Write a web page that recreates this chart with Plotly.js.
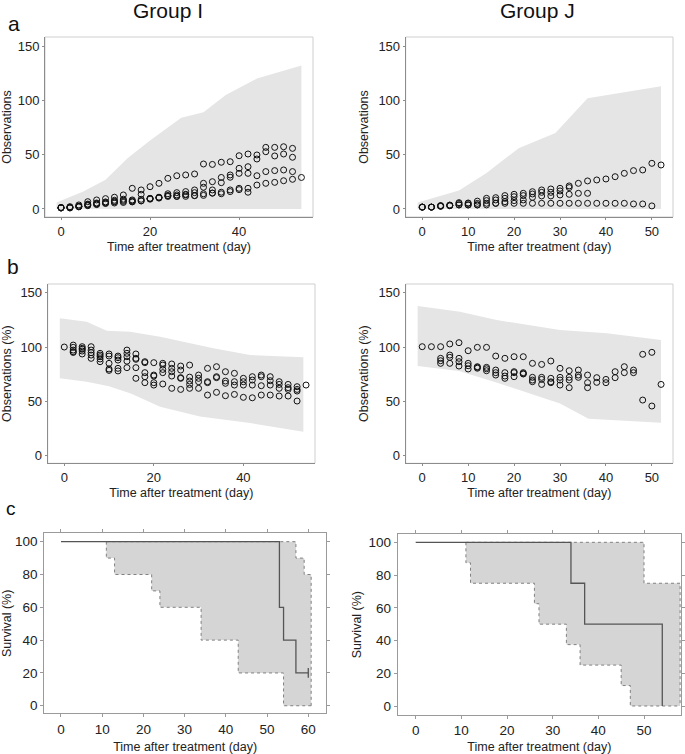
<!DOCTYPE html>
<html>
<head>
<meta charset="utf-8">
<script src="https://cdn.plot.ly/plotly-3.0.1.min.js"></script>
<style>
  html, body { margin: 0; padding: 0; background: #fff; }
  #chart { width: 685px; height: 754px; }
</style>
</head>
<body>
<div id="chart"></div>
<script>
// ---- días de observación ----
const days = [0,2,4,6,8,10,12,14,16,18,20,22,24,26,28,30,32,34,36,38,40,42,44,46,48,50,52,54];

// ---- panel a: Group I (observaciones por sujeto) ----
const obsI_A = [1.5,2.1,3.7,6.7,8.3,9.5,10.8,12.9,19,17.5,20.5,23.6,28.2,30.6,31.3,32.2,41.4,41,43,43.5,49,50.6,49.7,56.7,56.7,57.3,55.8];
const obsI_B = [1,1.5,2.5,4.5,5.5,6.5,8,9,8.3,13.5,9.8,10.8,14,15,16,17.5,23.6,25.1,29,31.3,37.4,38.9,46,52.7,48.8,50.6,47.6];
const obsI_C = [1,1.5,2.5,4,5,6,7,8,7.5,8.9,9.5,10.5,12.3,12.9,13.5,15,20,17.5,24.2,29.2,32.8,32.8,30.6,34.4,35.3,35.9,34.4];
const obsI_D = [1,1,2,3.5,4.5,5.5,6.5,7,6.7,7.4,9.5,10.5,12.3,11.6,11.6,12.3,14,14.6,15.4,17.5,19,19,22,23.6,24.5,26,27.3,29];
const obsI_E = [1,1,2,3,4,5,5.5,6,6.5,7.5,9,10,11.5,11.6,13,12.3,12.5,14.6,14,16,17.8,15.4];
const bandA_I_x  = [-1,5,10,15,20,27,32,37,44,54];
const bandA_I_hi = [6,16,27,47,63,84,89,105,120,132];
const bandA_I_lo = [0,0,0,0,0,0,0,0,0,0];

// ---- panel a: Group J ----
const obsJ_1 = [1.7,1.7,3,3.5,5.8,5.5,7.2,9.8,10.4,12.3,13.5,14.4,15.9,17.5,18.4,19,21.2,23.6,25.8,26.7,27.6,29.7,32.8,35.3,35.9,42,40.5];
const obsJ_2 = [1.7,1.7,3,3.5,5,5,5.1,7.7,8.3,9.8,11.3,12.3,13.8,15.3,15.3,16.6,19.7];
const obsJ_3 = [1.7,1.7,2.5,3,3.7,3.7,3.7,5.2,5.2,6.7,7.7,8.3,10.7,12,12,12.9,13.5,14.4,14.4];
const obsJ_4 = [1.7,1.7,2.5,3,3.7,3.7,3.7,3.7,5.2,5.2,5.2,5.2,5.2,5.2,5.2,5.2,5.2,5.2,5.2,5.2,5.2,5.2,5.2,4.6,4.6,2.8];
const bandA_J_x  = [-1,8,14,21,29,36,52];
const bandA_J_hi = [6,17,33,56,70,102,113];
const bandA_J_lo = [0,0,0,0,0,0,0];

// ---- panel b: Group I (% del valor inicial) ----
const pctI_1 = [100,101.8,100.3,100.3,94.2,93.6,91.7,97.2,93.6,86.5,85.6,85,84.4,82.5,83.4,74.2,80.4,81.9,77.3,75.8,71.2,72.7,74.2,72.7,68.1,65.6,63.5,65];
const pctI_2 = [99.7,98.8,97.2,92.6,91.7,90.2,94.2,89.6,85.6,74.2,83.4,80.4,78.8,72.3,71.2,68.1,72.7,68.7,68.1,68.1,69.6,72.7,69,65.6,62.6,61];
const pctI_3 = [97.2,97.9,94.8,91.1,85,88,91.1,88.7,76.4,73.3,79.4,77.3,71.8,68.7,68.1,67.2,71.8,66.6,65,65,65,64.4,65,62,61,59.5];
const pctI_4 = [95.7,96.3,92.6,89,79.8,80.4,87,81,72.7,67.2,76.4,73.3,71.2,65.6,62,55.8,58.3,55.2,56.4,53.7,53.3,55.8,55.8,54.9,54.9,50.3];
const pctI_5 = [95,93.6,89.6,86.5,78.5,78,81,71.2,67.2,65,66,62,61,62];
const bandB_I_hiX = [-1,5,9.5,14.7,21.4,33.3,41.5,53.4];
const bandB_I_hi  = [126.4,123.3,115,114,109.5,98.8,92.6,90.5];
const bandB_I_loX = [-1,5,10,15,21.4,30.3,41.5,53.4];
const bandB_I_lo  = [71.2,68,64,57,45,36,30,22];

// ---- panel b: Group J ----
const pctJ_1 = [100.3,100.3,100.3,102.8,104,96.6,99.7,99.7,91.7,89.6,91.1,91.1,85,84,87.1,80.4,78.2,78.8,74.2,71.8,70.2,77.3,81.9,78.8,93.3,95.1,65.6];
const pctJ_2 = [89.6,92.6,89.6,85,81.9,81.3,78.8,76.4,77.3,76.4,72.1,72.1,71.2,72.1,72.1,74.2,67.2,67.5,67.2,71.8,76.4,76.4,51.2,45.7];
const pctJ_3 = [87.4,90.5,86.5,82.8,81.3,80,76.4,73.3,76.4,75.2,69.6,70.2,67.2,69.6,69.6,72.1,62.6];
const pctJ_4 = [85,85,82.5,79.8,80.5,78.2,74.2,71.2,72.7,75.5,68.1,65.6,68,65,62.6];
const bandB_J_hiX = [-1,8.2,16.2,30,40.2,52];
const bandB_J_hi  = [137.7,132.5,124.8,115.6,112.6,106.4];
const bandB_J_loX = [-1,8,16.5,22.7,30,36.2,52];
const bandB_J_lo  = [82.5,78,67,58,48,34,30.4];

// ---- panel c: supervivencia (tiempos de caída y valor después) ----
const kmI_t = [0,53,54,57,60];
const kmI_v = [100,60,40,20,20];
const kmI_censorT = [60];
const kmI_censorV = [20];
const ciI_low_t = [11,11,13,22,24,34,43,54,60.7];
const ciI_low_v = [100,90,80,70,60,40,20,0,0];
const ciI_up_t  = [11,57,59,60.7];
const ciI_up_v  = [100,90,80,0];

const kmJ_t = [0,34,37,54];
const kmJ_v = [100,75,50,0];
const ciJ_low_t = [11,11,12,26,27,33,36,45,47,57.9];
const ciJ_low_v = [100,87.5,75,62.5,50,37.5,25,12.5,0,0];
const ciJ_up_t  = [11,50,57.9];
const ciJ_up_v  = [100,75,0];

const FONT = 'Arial, "Liberation Sans", sans-serif';
const BAND = '#e5e5e5';
const SHADE = '#d5d5d5';

// puntos de un sujeto
function dots(x, y, xa, ya) {
    return { x, y, xaxis: xa, yaxis: ya, type: "scatter", mode: "markers",
        marker: { symbol: "circle-open", size: 6, color: "#111", line: { width: 1 } },
        hoverinfo: "skip" };
}

// banda gris (inferior + superior con relleno)
function band(xLo, lo, xHi, hi, xa, ya) {
    return [
        { x: xLo, y: lo, xaxis: xa, yaxis: ya, type: "scatter", mode: "lines",
          line: { width: 0 }, hoverinfo: "skip" },
        { x: xHi, y: hi, xaxis: xa, yaxis: ya, type: "scatter", mode: "lines",
          line: { width: 0 }, fill: "tonexty", fillcolor: BAND, hoverinfo: "skip" }
    ];
}

function stepCI(tLo, vLo, tUp, vUp, xa, ya) {
    return [
        { x: tLo, y: vLo, xaxis: xa, yaxis: ya, type: "scatter", mode: "lines",
          line: { shape: "hv", color: "#808080", width: 1, dash: "dot" }, hoverinfo: "skip" },
        { x: tUp, y: vUp, xaxis: xa, yaxis: ya, type: "scatter", mode: "lines",
          line: { shape: "hv", color: "#808080", width: 1, dash: "dot" },
          fill: "tonexty", fillcolor: SHADE, hoverinfo: "skip" }
    ];
}

function kmLine(t, v, xa, ya) {
    return { x: t, y: v, xaxis: xa, yaxis: ya, type: "scatter", mode: "lines",
        line: { shape: "hv", color: "#555", width: 1.3 }, hoverinfo: "skip" };
}

const data = [
    ...band(bandA_I_x, bandA_I_lo, bandA_I_x, bandA_I_hi, "x", "y"),
    dots(days.slice(0, obsI_A.length), obsI_A, "x", "y"),
    dots(days.slice(0, obsI_B.length), obsI_B, "x", "y"),
    dots(days.slice(0, obsI_C.length), obsI_C, "x", "y"),
    dots(days.slice(0, obsI_D.length), obsI_D, "x", "y"),
    dots(days.slice(0, obsI_E.length), obsI_E, "x", "y"),

    ...band(bandA_J_x, bandA_J_lo, bandA_J_x, bandA_J_hi, "x2", "y2"),
    dots(days.slice(0, obsJ_1.length), obsJ_1, "x2", "y2"),
    dots(days.slice(0, obsJ_2.length), obsJ_2, "x2", "y2"),
    dots(days.slice(0, obsJ_3.length), obsJ_3, "x2", "y2"),
    dots(days.slice(0, obsJ_4.length), obsJ_4, "x2", "y2"),

    ...band(bandB_I_loX, bandB_I_lo, bandB_I_hiX, bandB_I_hi, "x3", "y3"),
    dots(days.slice(0, pctI_1.length), pctI_1, "x3", "y3"),
    dots(days.slice(1, 1 + pctI_2.length), pctI_2, "x3", "y3"),
    dots(days.slice(1, 1 + pctI_3.length), pctI_3, "x3", "y3"),
    dots(days.slice(1, 1 + pctI_4.length), pctI_4, "x3", "y3"),
    dots(days.slice(1, 1 + pctI_5.length), pctI_5, "x3", "y3"),

    ...band(bandB_J_loX, bandB_J_lo, bandB_J_hiX, bandB_J_hi, "x4", "y4"),
    dots(days.slice(0, pctJ_1.length), pctJ_1, "x4", "y4"),
    dots(days.slice(2, 2 + pctJ_2.length), pctJ_2, "x4", "y4"),
    dots(days.slice(2, 2 + pctJ_3.length), pctJ_3, "x4", "y4"),
    dots(days.slice(2, 2 + pctJ_4.length), pctJ_4, "x4", "y4"),

    ...stepCI(ciI_low_t, ciI_low_v, ciI_up_t, ciI_up_v, "x5", "y5"),
    kmLine(kmI_t, kmI_v, "x5", "y5"),
    { x: kmI_censorT, y: kmI_censorV, xaxis: "x5", yaxis: "y5", type: "scatter", mode: "markers",
      marker: { symbol: "line-ns-open", size: 7, color: "#555", line: { width: 1.3 } }, hoverinfo: "skip" },

    ...stepCI(ciJ_low_t, ciJ_low_v, ciJ_up_t, ciJ_up_v, "x6", "y6"),
    kmLine(kmJ_t, kmJ_v, "x6", "y6")
];

// ejes de los paneles a y b
function obsAxis(anchor, domain, range, dtick, title, standoff) {
    return { anchor, domain, range, dtick, tick0: 0, showgrid: false, zeroline: false,
        showline: true, linecolor: "#8c8c8c", linewidth: 1,
        ticks: "outside", ticklen: 2, tickcolor: "#8c8c8c",
        tickfont: { size: 13, color: "#222" },
        title: { text: title, font: { size: 12.5, color: "#222" }, standoff },
        fixedrange: true };
}

// ejes de los paneles c (caja completa con marcas)
function survAxis(anchor, domain, range, dtick, title, standoff) {
    return { anchor, domain, range, dtick, tick0: 0, showgrid: false, zeroline: false,
        showline: true, mirror: "ticks", linecolor: "#9a9a9a", linewidth: 1,
        ticks: "outside", ticklen: 3, tickcolor: "#9a9a9a",
        tickfont: { size: 13.5, color: "#222" },
        title: { text: title, font: { size: 12.5, color: "#222" }, standoff },
        fixedrange: true };
}

const W = 685, H = 754;
const dx = (a, b) => [a / W, b / W];
const dy = (top, bottom) => [1 - bottom / H, 1 - top / H];
const xTitle = "Time after treatment (day)";

function frame(xr, yr) {
    return { type: "rect", xref: xr + " domain", yref: yr + " domain", x0: 0, x1: 1, y0: 0, y1: 1,
        line: { color: "#cfcfcf", width: 1 }, layer: "below" };
}

function label(text, px, py, size) {
    return { text, x: px / W, y: 1 - py / H, xref: "paper", yref: "paper",
        xanchor: "center", yanchor: "middle", showarrow: false,
        font: { size, color: "#111", family: FONT } };
}

const layout = {
    width: W, height: H,
    margin: { l: 0, r: 0, t: 0, b: 0 },
    paper_bgcolor: "#fff", plot_bgcolor: "#fff",
    showlegend: false,
    font: { family: FONT, color: "#222" },
    xaxis:  obsAxis("y",  dx(45, 313), [-3.6, 56.6], 20, xTitle, 4),
    yaxis:  obsAxis("x",  dy(37, 217), [-7.4, 158.3], 50, "Observations", 7),
    xaxis2: obsAxis("y2", dx(405.7, 673), [-3.6, 54.6], 10, xTitle, 4),
    yaxis2: obsAxis("x2", dy(37, 217), [-7.4, 158.3], 50, "Observations", 7),
    xaxis3: obsAxis("y3", dx(47.7, 315), [-3.7, 56], 20, xTitle, 4),
    yaxis3: obsAxis("x3", dy(284, 463.3), [-7, 158], 50, "Observations (%)", 7),
    xaxis4: obsAxis("y4", dx(405.7, 673), [-3.6, 54.6], 10, xTitle, 4),
    yaxis4: obsAxis("x4", dy(284, 463.3), [-7, 158], 50, "Observations (%)", 7),
    xaxis5: survAxis("y5", dx(44.3, 326), [-4.05, 64.3], 10, xTitle, 7),
    yaxis5: survAxis("x5", dy(533.3, 713.3), [-4.6, 105.1], 20, "Survival (%)", 4),
    xaxis6: survAxis("y6", dx(397.7, 681), [-3.94, 58.1], 10, xTitle, 7),
    yaxis6: survAxis("x6", dy(534.3, 715), [-5.5, 104.9], 20, "Survival (%)", 4),
    shapes: [frame("x", "y"), frame("x2", "y2"), frame("x3", "y3"), frame("x4", "y4")],
    annotations: [
        label("Group I", 168, 10, 21),
        label("Group J", 537, 10, 21),
        label("a", 14, 23, 21),
        label("b", 13, 266, 21),
        label("c", 11, 509, 19)
    ]
};

Plotly.newPlot("chart", data, layout, { staticPlot: true, displayModeBar: false });
</script>
</body>
</html>
